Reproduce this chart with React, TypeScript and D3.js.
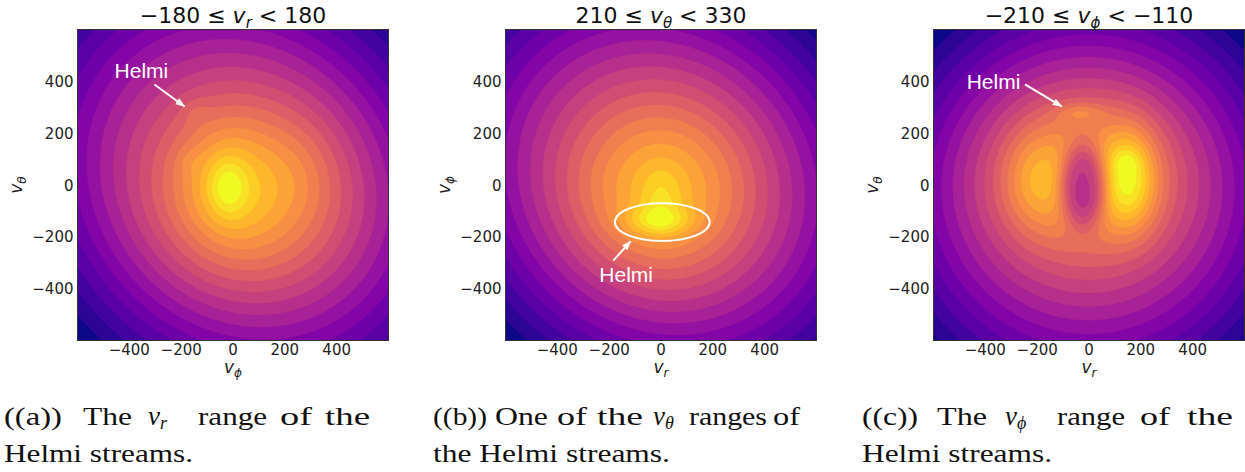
import React, { useMemo } from "react";
import * as d3 from "d3";

// ---------- data ----------
const DOMAIN: [number, number] = [-600, 600];
const TICKS = [-400, -200, 0, 200, 400];
const LEVELS = 20;
const GRID = 121;

// density components:
// [centerX, centerY, spreadU, spreadV, weight, shapeExponent, angleDeg]
const componentsA: number[][] = [
  [40, 15, 670, 580, 0.62, 2.5, -45],
  [60, -40, 240, 230, 0.2, 2, 0],
  [-30, 10, 110, 150, 0.08, 2, 0],
  [-20, -10, 50, 75, 0.1, 2, 0],
  [-145, 285, 40, 35, 0.03, 2, 0],
  [-175, 90, 35, 35, 0.025, 2, 0],
  [260, 60, 90, 120, 0.02, 2, 0],
];
const componentsB: number[][] = [
  [0, 20, 680, 600, 0.6, 2.5, -40],
  [0, -30, 230, 230, 0.2, 2, 0],
  [-10, -140, 90, 40, 0.12, 2, 0],
  [0, -50, 55, 85, 0.06, 2, 0],
];
const componentsC: number[][] = [
  [0, -30, 640, 640, 0.55, 2.5, 0],
  [-20, 40, 260, 230, 0.2, 2, 0],
  [-215, 15, 80, 130, 0.08, 2, 0],
  [160, 20, 70, 135, 0.18, 2, 0],
  [145, 95, 35, 30, 0.04, 2, 0],
  [-22, 0, 72, 130, -0.26, 3, 0],
  [-35, 280, 65, 24, 0.065, 2, 0],
];

// annotations in data units
const helmiA = { text: [-457, 411], from: [-303, 388], to: [-187, 303] };
const helmiB = { text: [-238, -375], from: [-184, -292], to: [-117, -217], ellipse: [5, -143, 183, 73] };
const helmiC = { text: [-472, 372], from: [-247, 388], to: [-105, 303] };

// ---------- layout ----------
const SIZE = 311;
const TOP = 29.5;
const LEFTS = [77.5, 505.5, 933.5];

function buildField(comps: number[][]) {
  const n = GRID;
  const step = (DOMAIN[1] - DOMAIN[0]) / (n - 1);
  const vals = new Array(n * n);
  const prepared = comps.map(([cx, cy, su, sv, w, p, ang]) => {
    const a = ((ang || 0) * Math.PI) / 180;
    return { cx, cy, su, sv, w, p: p || 2, c: Math.cos(a), s: Math.sin(a) };
  });
  for (let j = 0; j < n; j++) {
    const y = DOMAIN[1] - j * step;
    for (let i = 0; i < n; i++) {
      const x = DOMAIN[0] + i * step;
      let v = 0;
      for (const q of prepared) {
        const dx = x - q.cx;
        const dy = y - q.cy;
        const u = (dx * q.c + dy * q.s) / q.su;
        const t = (-dx * q.s + dy * q.c) / q.sv;
        const r = Math.sqrt(u * u + t * t);
        v += q.w * Math.exp(-0.5 * Math.pow(r, q.p));
      }
      vals[j * n + i] = v;
    }
  }
  return { vals, step };
}

const minus = (t: number) => (t < 0 ? "\u2212" + Math.abs(t) : String(t));

function Panel({ idx, comps, title, xLabel, yLabel, children }: any) {
  const left = LEFTS[idx];
  const x = d3.scaleLinear().domain(DOMAIN).range([left, left + SIZE]);
  const y = d3.scaleLinear().domain(DOMAIN).range([TOP + SIZE, TOP]);
  const bands = useMemo(() => {
    const { vals, step } = buildField(comps);
    const mn = d3.min(vals) as number;
    const mx = d3.max(vals) as number;
    const thr = d3.range(LEVELS).map((k) => mn - 1e-9 + (k * (mx - mn)) / LEVELS);
    const cont = d3.contours().size([GRID, GRID]).thresholds(thr)(vals);
    const proj = d3.geoTransform({
      point(px: number, py: number) {
        (this as any).stream.point(x(DOMAIN[0] + (px - 0.5) * step), y(DOMAIN[1] - (py - 0.5) * step));
      },
    });
    const path = d3.geoPath(proj);
    return cont.map((c, k) => ({ d: path(c as any) || "", color: d3.interpolatePlasma(k / (LEVELS - 1)) }));
  }, [comps, idx]);
  const clipId = `clip${idx}`;
  const cx = left + SIZE / 2;
  return (
    <g>
      <defs>
        <clipPath id={clipId}>
          <rect x={left} y={TOP} width={SIZE} height={SIZE} />
        </clipPath>
      </defs>
      <g clipPath={`url(#${clipId})`}>
        <rect x={left} y={TOP} width={SIZE} height={SIZE} fill={d3.interpolatePlasma(0)} />
        {bands.map((b, k) => (
          <path key={k} d={b.d} fill={b.color} stroke={b.color} strokeWidth={0.4} />
        ))}
        {children && children(x, y)}
      </g>
      <rect x={left} y={TOP} width={SIZE} height={SIZE} fill="none" stroke="#333" strokeWidth={1} />
      {TICKS.map((t) => (
        <text key={"x" + t} x={x(t)} y={354.5} textAnchor="middle" fontSize={15} fill="#222" fontFamily="DejaVu Sans">
          {minus(t)}
        </text>
      ))}
      {TICKS.map((t) => (
        <text key={"y" + t} x={left - 4} y={y(t) + 5.5} textAnchor="end" fontSize={15} fill="#222" fontFamily="DejaVu Sans">
          {minus(t)}
        </text>
      ))}
      <text x={cx} y={372.5} textAnchor="middle" fontSize={17} fill="#222" fontFamily="DejaVu Sans">
        <tspan fontStyle="italic">v</tspan>
        <tspan fontSize={12} dy={4} fontStyle="italic">{xLabel}</tspan>
      </text>
      <text transform={`translate(${left - 56},${TOP + SIZE / 2}) rotate(-90)`} textAnchor="middle" fontSize={17} fill="#222" fontFamily="DejaVu Sans">
        <tspan fontStyle="italic">v</tspan>
        <tspan fontSize={12} dy={4} fontStyle="italic">{yLabel}</tspan>
      </text>
      <text x={cx} y={22.5} textAnchor="middle" fontSize={22} fill="#111" fontFamily="DejaVu Sans">
        <tspan>{title[0]}</tspan>
        <tspan fontStyle="italic">v</tspan>
        <tspan fontSize={15} dy={5} fontStyle="italic">{title[1]}</tspan>
        <tspan dy={-5}>{title[2]}</tspan>
      </text>
    </g>
  );
}

function Arrow({ x, y, a }: any) {
  return <line x1={x(a.from[0])} y1={y(a.from[1])} x2={x(a.to[0])} y2={y(a.to[1])} stroke="white" strokeWidth={2} markerEnd="url(#head)" />;
}

function Helmi({ x, y, p }: any) {
  return (
    <text x={x(p[0])} y={y(p[1])} fontSize={21} fill="white" fontFamily="Liberation Sans">
      Helmi
    </text>
  );
}

// caption words: [text, x0, x1]
const capA1: any[] = [["((a))", 4, 62], ["The", 83, 132], ["v|r", 148, 177], ["range", 198, 267], ["of", 280, 312], ["the", 325, 370]];
const capA2: any[] = [["Helmi streams.", 4, 193]];
const capB1: any[] = [["((b))", 433, 487], ["One", 495, 548], ["of", 557, 587], ["the", 597, 643], ["v|θ", 653, 683], ["ranges", 689, 767], ["of", 773, 800]];
const capB2: any[] = [["the Helmi streams.", 433, 670]];
const capC1: any[] = [["((c))", 862, 918], ["The", 937, 987], ["v|ϕ", 1005, 1040], ["range", 1057, 1125], ["of", 1140, 1170], ["the", 1187, 1233]];
const capC2: any[] = [["Helmi streams.", 862, 1052]];

function CaptionLine({ words, base }: any) {
  return (
    <g fontFamily="Liberation Serif" fontSize={25} fill="#111">
      {words.map(([t, x0, x1]: any, i: number) => {
        if (t.includes("|")) {
          const [v, s] = t.split("|");
          return (
            <text key={i} x={x0} y={base}>
              <tspan fontStyle="italic" fontSize={27}>{v}</tspan>
              <tspan fontSize={18} dy={4} fontStyle="italic">{s}</tspan>
            </text>
          );
        }
        return (
          <text key={i} x={x0} y={base} textLength={x1 - x0} lengthAdjust="spacingAndGlyphs">
            {t}
          </text>
        );
      })}
    </g>
  );
}

export default function App() {
  return (
    <svg width={1245} height={472} style={{ position: "absolute", left: 0, top: 0, background: "white" }}>
      <defs>
        <marker id="head" viewBox="0 0 10 10" refX="9" refY="5" markerWidth="5" markerHeight="5" orient="auto" markerUnits="strokeWidth">
          <path d="M0,1.5 L10,5 L0,8.5 z" fill="white" />
        </marker>
      </defs>
      <Panel idx={0} comps={componentsA} title={["\u2212180 \u2264 ", "r", " < 180"]} xLabel="ϕ" yLabel="θ">
        {(x: any, y: any) => (
          <g>
            <Helmi x={x} y={y} p={helmiA.text} />
            <Arrow x={x} y={y} a={helmiA} />
          </g>
        )}
      </Panel>
      <Panel idx={1} comps={componentsB} title={["210 \u2264 ", "θ", " < 330"]} xLabel="r" yLabel="ϕ">
        {(x: any, y: any) => (
          <g>
            <ellipse
              cx={x(helmiB.ellipse[0])}
              cy={y(helmiB.ellipse[1])}
              rx={x(helmiB.ellipse[2]) - x(0)}
              ry={y(0) - y(helmiB.ellipse[3])}
              fill="none"
              stroke="white"
              strokeWidth={2}
            />
            <Helmi x={x} y={y} p={helmiB.text} />
            <Arrow x={x} y={y} a={helmiB} />
          </g>
        )}
      </Panel>
      <Panel idx={2} comps={componentsC} title={["\u2212210 \u2264 ", "ϕ", " < \u2212110"]} xLabel="r" yLabel="θ">
        {(x: any, y: any) => (
          <g>
            <Helmi x={x} y={y} p={helmiC.text} />
            <Arrow x={x} y={y} a={helmiC} />
          </g>
        )}
      </Panel>
      <CaptionLine words={capA1} base={425} />
      <CaptionLine words={capA2} base={462} />
      <CaptionLine words={capB1} base={425} />
      <CaptionLine words={capB2} base={462} />
      <CaptionLine words={capC1} base={425} />
      <CaptionLine words={capC2} base={462} />
    </svg>
  );
}
